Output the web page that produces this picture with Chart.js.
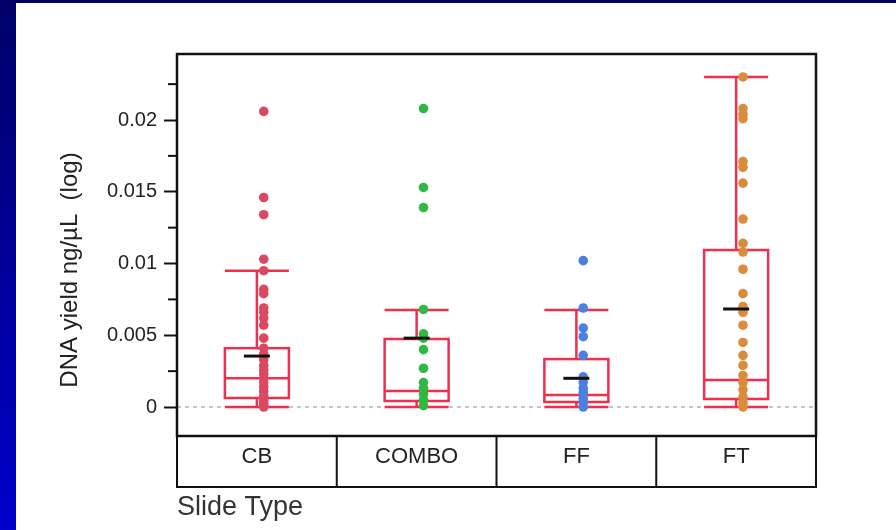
<!DOCTYPE html>
<html>
<head>
<meta charset="utf-8">
<script src="https://cdn.jsdelivr.net/npm/chart.js@4.4.1/dist/chart.umd.min.js"></script>
<style>
  html, body { margin: 0; padding: 0; }
  body {
    width: 896px; height: 530px; overflow: hidden; position: relative;
    background: linear-gradient(to bottom, #000066, #0000cc);
  }
  #chart { position: absolute; left: 16px; top: 3px; background: #fff; }
</style>
</head>
<body>
<canvas id="chart" width="880" height="527"></canvas>
<script>
const categories = ["CB", "COMBO", "FF", "FT"];
const tickLabels = ["0", "0.005", "0.01", "0.015", "0.02"];

// box statistics per category
const whiskerLow = [0, 0, 0, 0];
const q1 = [0.00063, 0.00042, 0.00035, 0.00056];
const median = [0.0020, 0.00111, 0.00084, 0.00188];
const q3 = [0.0041, 0.00474, 0.00334, 0.01094];
const whiskerHigh = [0.0095, 0.00676, 0.00676, 0.023];
const means = [0.00355, 0.0048, 0.002, 0.00683];

// individual samples
const cbValues = [0.0206, 0.0146, 0.0134, 0.0103, 0.0095, 0.0082, 0.0079, 0.0069, 0.0066, 0.0062, 0.0057,
  0.0048, 0.0041, 0.0037, 0.0033, 0.0029, 0.0026, 0.0023, 0.002, 0.0017, 0.0014, 0.0011, 0.0008, 0.0005,
  0.0003, 0.0001, 0];
const comboValues = [0.0208, 0.0153, 0.0139, 0.0068, 0.0051, 0.0048, 0.004, 0.0027, 0.0017, 0.0013, 0.0009,
  0.0005, 0.0001];
const ffValues = [0.0102, 0.0069, 0.0055, 0.0049, 0.0036, 0.0021, 0.0017, 0.0013, 0.001, 0.0006, 0.0003, 0];
const ftValues = [0.023, 0.0208, 0.0204, 0.0201, 0.0171, 0.0167, 0.0156, 0.0131, 0.0114, 0.0108, 0.0096,
  0.0079, 0.007, 0.0066, 0.0057, 0.0045, 0.0036, 0.0029, 0.0022, 0.0017, 0.0012, 0.0007, 0.0003, 0];

const pointColors = ["#d94a60", "#2fb843", "#4b80e0", "#d98c3c"];
const BOX_RED = "#ef2f4c";
const BOX_HALF = 32;
const FONT = "'Liberation Sans', Arial, sans-serif";

function toPoints(values, i) {
  return values.map(v => ({ x: i + 0.043, y: v }));
}

const isMajor = v => Math.abs(v / 0.005 - Math.round(v / 0.005)) < 1e-6;

const boxPlugin = {
  id: "boxes",
  beforeDatasetsDraw(chart) {
    const { ctx, chartArea, scales } = chart;
    const x = scales.x, y = scales.y;
    ctx.save();
    // dashed zero line
    ctx.strokeStyle = "#c4c4c4";
    ctx.lineWidth = 2;
    ctx.setLineDash([4, 4]);
    ctx.beginPath();
    ctx.moveTo(chartArea.left, y.getPixelForValue(0));
    ctx.lineTo(chartArea.right, y.getPixelForValue(0));
    ctx.stroke();
    ctx.setLineDash([]);

    ctx.strokeStyle = BOX_RED;
    ctx.lineWidth = 2.5;
    categories.forEach((c, i) => {
      const cx = x.getPixelForValue(i);
      const yq1 = y.getPixelForValue(q1[i]);
      const yq3 = y.getPixelForValue(q3[i]);
      const ym = y.getPixelForValue(median[i]);
      const ylo = y.getPixelForValue(whiskerLow[i]);
      const yhi = y.getPixelForValue(whiskerHigh[i]);
      ctx.strokeRect(cx - BOX_HALF, yq3, BOX_HALF * 2, yq1 - yq3);
      ctx.beginPath();
      ctx.moveTo(cx - BOX_HALF, ym); ctx.lineTo(cx + BOX_HALF, ym);
      ctx.moveTo(cx, yq3); ctx.lineTo(cx, yhi);
      ctx.moveTo(cx - BOX_HALF, yhi); ctx.lineTo(cx + BOX_HALF, yhi);
      ctx.moveTo(cx, yq1); ctx.lineTo(cx, ylo);
      ctx.moveTo(cx - BOX_HALF, ylo); ctx.lineTo(cx + BOX_HALF, ylo);
      ctx.stroke();
    });
    ctx.restore();
  },
  afterDatasetsDraw(chart) {
    const { ctx, chartArea, scales } = chart;
    const x = scales.x, y = scales.y;
    ctx.save();
    // mean markers
    ctx.strokeStyle = "#111";
    ctx.lineWidth = 3;
    categories.forEach((c, i) => {
      const cx = x.getPixelForValue(i);
      const ym = y.getPixelForValue(means[i]);
      ctx.beginPath();
      ctx.moveTo(cx - 13, ym); ctx.lineTo(cx + 13, ym);
      ctx.stroke();
    });

    // frame
    ctx.strokeStyle = "#111";
    ctx.lineWidth = 2.5;
    ctx.strokeRect(chartArea.left, chartArea.top, chartArea.right - chartArea.left, chartArea.bottom - chartArea.top);

    // minor ticks
    ctx.lineWidth = 2;
    y.ticks.forEach(t => {
      if (isMajor(t.value)) return;
      const py = y.getPixelForValue(t.value);
      ctx.beginPath();
      ctx.moveTo(chartArea.left - 9, py); ctx.lineTo(chartArea.left, py);
      ctx.stroke();
    });

    // category strip
    const stripBottom = chartArea.bottom + 51;
    ctx.strokeRect(chartArea.left, chartArea.bottom, chartArea.right - chartArea.left, stripBottom - chartArea.bottom);
    ctx.beginPath();
    for (let i = 0; i < categories.length - 1; i++) {
      const px = x.getPixelForValue(i + 0.5);
      ctx.moveTo(px, chartArea.bottom); ctx.lineTo(px, stripBottom);
    }
    ctx.stroke();
    ctx.fillStyle = "#222";
    ctx.font = "22px " + FONT;
    ctx.textAlign = "center";
    ctx.textBaseline = "middle";
    categories.forEach((c, i) => {
      ctx.fillText(c, x.getPixelForValue(i), chartArea.bottom + 21);
    });

    // x title
    ctx.font = "27px " + FONT;
    ctx.textAlign = "left";
    ctx.textBaseline = "alphabetic";
    ctx.fillStyle = "#333";
    ctx.fillText("Slide Type", chartArea.left, stripBottom + 28);

    // y title
    ctx.translate(54, 267);
    ctx.rotate(-Math.PI / 2);
    ctx.font = "24px " + FONT;
    ctx.textAlign = "center";
    ctx.textBaseline = "middle";
    ctx.fillStyle = "#222";
    ctx.fillText("DNA yield ng/\u00b5L  (log)", 0, 0);
    ctx.restore();
  }
};

const datasets = [cbValues, comboValues, ffValues, ftValues].map((vals, i) => ({
  label: categories[i],
  data: toPoints(vals, i),
  backgroundColor: pointColors[i],
  borderColor: pointColors[i],
  pointRadius: 4.8,
  pointBorderWidth: 0,
}));

new Chart(document.getElementById("chart"), {
  type: "scatter",
  data: { datasets: datasets },
  options: {
    responsive: false,
    animation: false,
    layout: { padding: { left: 0, top: 51, right: 80, bottom: 94 } },
    plugins: {
      legend: { display: false },
      tooltip: { enabled: false },
    },
    scales: {
      x: {
        type: "linear",
        min: -0.5,
        max: 3.5,
        display: false,
      },
      y: {
        min: -0.00202,
        max: 0.0246,
        afterFit: function (scale) { scale.width = 161; },
        border: { display: false },
        grid: {
          drawOnChartArea: false,
          drawTicks: true,
          tickLength: 13,
          tickWidth: 2,
          tickColor: function (context) {
            return context.tick && isMajor(context.tick.value) ? "#111" : "rgba(0,0,0,0)";
          },
        },
        ticks: {
          stepSize: 0.0025,
          includeBounds: false,
          autoSkip: false,
          padding: 7,
          color: "#222",
          font: { family: FONT, size: 20 },
          callback: function (value) {
            if (!isMajor(value)) return "";
            const k = Math.round(value / 0.005);
            return tickLabels[k] !== undefined ? tickLabels[k] : "";
          },
        },
        title: { display: false },
      },
    },
  },
  plugins: [boxPlugin],
});
</script>
</body>
</html>
